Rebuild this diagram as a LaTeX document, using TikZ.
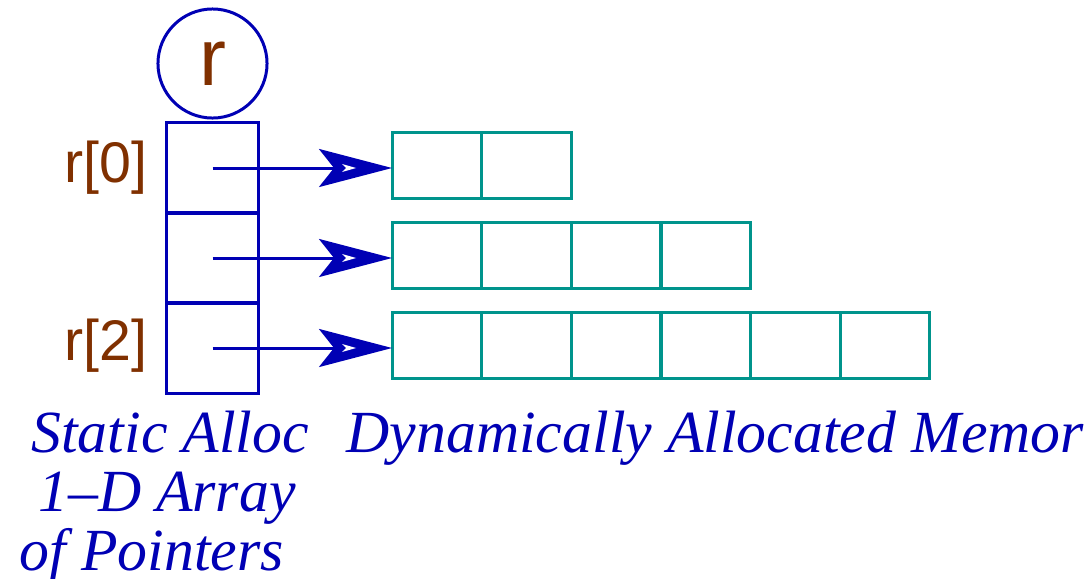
\documentclass[tikz,border=0pt]{standalone}
\usepackage{fontspec}
\setmainfont{Liberation Serif}
\newfontfamily\labelfont{Liberation Sans}
\usetikzlibrary{arrows.meta,calc}
\definecolor{ptrblue}{RGB}{0,0,180}
\definecolor{memteal}{RGB}{0,148,140}
\definecolor{namebrown}{RGB}{128,48,0}
\begin{document}
\begin{tikzpicture}[x=0.01cm,y=-0.01cm,
  ptrcell/.style={draw=ptrblue,line width=0.85pt,minimum width=0.91cm,minimum height=0.90cm,inner sep=0pt,outer sep=0pt},
  memcell/.style={draw=memteal,line width=0.85pt,minimum width=0.895cm,minimum height=0.65cm,inner sep=0pt,outer sep=0pt},
  namelabel/.style={text=namebrown,font=\labelfont\fontsize{16.3pt}{16.3pt}\selectfont,inner sep=0pt},
  caption/.style={text=ptrblue,font=\itshape\fontsize{17pt}{17pt}\selectfont,inner sep=0pt},
  ptrarrow/.style={draw=ptrblue,line width=0.85pt,-{Stealth[length=0.73cm,width=0.38cm,inset=0.15cm,fill=ptrblue]}}]
\useasboundingbox (0,0) rectangle (1090,578);

% variable r
\node[circle,draw=ptrblue,line width=0.85pt,minimum size=1.09cm,inner sep=0pt,
      text=namebrown,font=\labelfont\fontsize{23pt}{23pt}\selectfont] (r) at (212.5,63.5) {r};

% static array of pointers
\node[ptrcell] (p0) at (212.5,168) {};
\node[ptrcell] (p1) at (212.5,258) {};
\node[ptrcell] (p2) at (212.5,348) {};

\node[namelabel,anchor=east] (l0) at (148,168) {r[0]};
\node[namelabel,anchor=east] (l2) at (148,346) {r[2]};

% dynamically allocated rows
\foreach \i/\n in {0/2,1/4,2/6}{
  \foreach \j in {1,...,\n}{
    \node[memcell] (m\i-\j) at ({392+89.67*(\j-0.5)},{165.5+90*\i}) {};
  }
}

% pointers into the rows
\foreach \i in {0,1,2}{
  \coordinate (t\i) at (p\i.center -| m\i-1.west);
  \draw[ptrarrow] (p\i.center) -- (t\i);
  \fill[white] ($(t\i)+(-50,-4)$) -- ($(t\i)+(-36,0)$)
     -- ($(t\i)+(-50,4)$) -- ($(t\i)+(-46,0)$) -- cycle;
}

% captions
\node[caption,anchor=base] (cap1a) at (170,452) {Static Alloc};
\node[caption,anchor=base] (cap1b) at (167,511) {1--D Array};
\node[caption,anchor=base] (cap1c) at (152,570) {of Pointers};
\node[caption,anchor=base west] (cap2) at (346,452) {Dynamically Allocated Memor};
\end{tikzpicture}
\end{document}
